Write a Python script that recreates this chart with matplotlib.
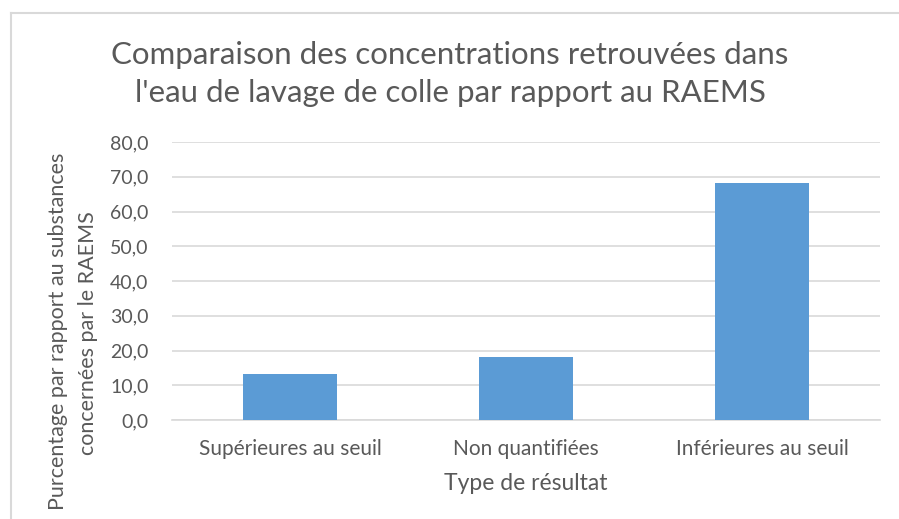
import matplotlib
matplotlib.use("Agg")
import matplotlib.pyplot as plt
from matplotlib.lines import Line2D

categories = ["Supérieures au seuil", "Non quantifiées", "Inférieures au seuil"]
values = [13.3, 18.2, 68.3]
yticks = [0, 10, 20, 30, 40, 50, 60, 70, 80]
ytick_labels = ["0,0", "10,0", "20,0", "30,0", "40,0", "50,0", "60,0", "70,0", "80,0"]
title = "Comparaison des concentrations retrouvées dans\nl'eau de lavage de colle par rapport au RAEMS"
xlabel = "Type de résultat"
ylabel_lines = ["Purcentage par rapport au substances", "concernées par le RAEMS"]

W, H = 899, 519
plt.rcParams['font.family'] = ['Lato', 'DejaVu Sans']
txt = "#595959"
grid = "#d9d9d9"

fig = plt.figure(figsize=(W / 100, H / 100), dpi=100)
fig.patch.set_facecolor("white")

# chart border (top and left visible)
fig.add_artist(Line2D([11 / W, 11 / W], [0, 1 - 13 / H], transform=fig.transFigure, color=grid, lw=1.5))
fig.add_artist(Line2D([11 / W, 1], [1 - 13 / H, 1 - 13 / H], transform=fig.transFigure, color=grid, lw=1.5))

left, right, top, bottom = 172, 880, 142, 420
ax = fig.add_axes([left / W, 1 - bottom / H, (right - left) / W, (bottom - top) / H])
x = range(len(categories))
ax.bar(x, values, width=0.4, color="#5B9BD5", zorder=3)
ax.set_xlim(-0.5, len(categories) - 0.5)
ax.set_ylim(0, 80)
ax.set_yticks(yticks)
ax.set_yticklabels(ytick_labels)
ax.set_xticks(list(x))
ax.set_xticklabels(categories)
ax.yaxis.grid(True, color=grid, lw=1.2, zorder=0)
ax.set_axisbelow(True)
for s in ["top", "right", "left"]:
    ax.spines[s].set_visible(False)
ax.spines["bottom"].set_color(grid)
ax.spines["bottom"].set_linewidth(1.2)
ax.tick_params(axis="both", length=0, colors=txt)
ax.tick_params(axis="y", pad=17, labelsize=14)
ax.tick_params(axis="x", pad=14, labelsize=15)
ax.set_xlabel(xlabel, fontsize=16.5, color=txt, labelpad=10)

fig.text(450 / W, 1 - 74 / H, title, ha="center", va="center", fontsize=22.5,
         color=txt, linespacing=1.45)
fig.text(58 / W, 1 - 331 / H, ylabel_lines[0], rotation=90, ha="center", va="center",
         fontsize=15.5, color=txt)
fig.text(88 / W, 1 - 333 / H, ylabel_lines[1], rotation=90, ha="center", va="center",
         fontsize=15.5, color=txt)

fig.savefig("out.png", dpi=100)
